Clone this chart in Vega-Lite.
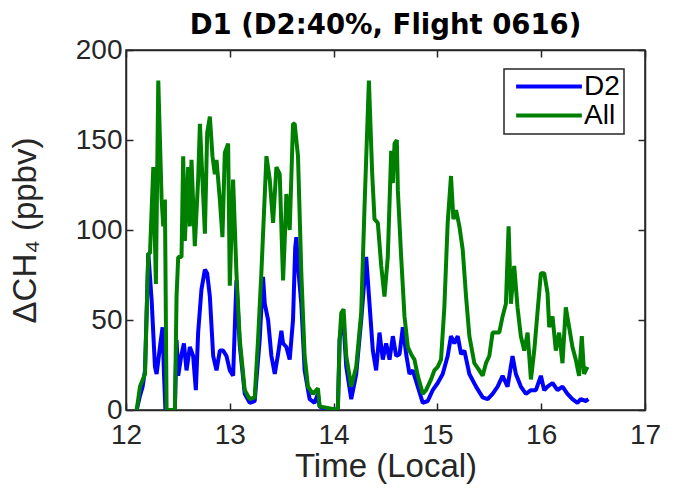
{
  "$schema": "https://vega.github.io/schema/vega-lite/v6.json",
  "width": 519,
  "height": 360,
  "autosize": "none",
  "padding": {"left": 126, "top": 50, "right": 33, "bottom": 78},
  "background": "white",
  "title": {
    "text": "D1 (D2:40%, Flight 0616)",
    "font": "DejaVu Sans",
    "fontSize": 27.5,
    "fontWeight": "bold",
    "color": "black",
    "anchor": "middle",
    "frame": "group",
    "offset": -3
  },
  "datasets": {
    "d2": [
      {"t": 12.103, "v": 0}, {"t": 12.135, "v": 8}, {"t": 12.160, "v": 13}, {"t": 12.183, "v": 22},
      {"t": 12.215, "v": 87}, {"t": 12.247, "v": 61}, {"t": 12.279, "v": 24}, {"t": 12.295, "v": 20},
      {"t": 12.327, "v": 35}, {"t": 12.352, "v": 46}, {"t": 12.366, "v": 20}, {"t": 12.380, "v": 0},
      {"t": 12.471, "v": 0}, {"t": 12.487, "v": 39}, {"t": 12.503, "v": 19}, {"t": 12.535, "v": 31},
      {"t": 12.558, "v": 37}, {"t": 12.583, "v": 22}, {"t": 12.615, "v": 35}, {"t": 12.647, "v": 30},
      {"t": 12.673, "v": 11}, {"t": 12.695, "v": 43}, {"t": 12.727, "v": 67}, {"t": 12.760, "v": 78},
      {"t": 12.782, "v": 76}, {"t": 12.808, "v": 63}, {"t": 12.840, "v": 30}, {"t": 12.872, "v": 22},
      {"t": 12.904, "v": 33}, {"t": 12.936, "v": 33}, {"t": 12.968, "v": 30}, {"t": 13.0, "v": 22},
      {"t": 13.032, "v": 19}, {"t": 13.064, "v": 72}, {"t": 13.096, "v": 36}, {"t": 13.144, "v": 9},
      {"t": 13.192, "v": 4}, {"t": 13.240, "v": 5}, {"t": 13.288, "v": 39}, {"t": 13.320, "v": 74},
      {"t": 13.337, "v": 59}, {"t": 13.369, "v": 50}, {"t": 13.401, "v": 30}, {"t": 13.433, "v": 20},
      {"t": 13.465, "v": 31}, {"t": 13.497, "v": 44}, {"t": 13.513, "v": 37}, {"t": 13.545, "v": 35},
      {"t": 13.577, "v": 28}, {"t": 13.609, "v": 50}, {"t": 13.630, "v": 90}, {"t": 13.641, "v": 96},
      {"t": 13.657, "v": 80}, {"t": 13.689, "v": 59}, {"t": 13.721, "v": 22}, {"t": 13.769, "v": 6},
      {"t": 13.817, "v": 4}, {"t": 13.849, "v": 9}, {"t": 13.865, "v": 2}, {"t": 13.900, "v": 1},
      {"t": 14.041, "v": 0}, {"t": 14.058, "v": 39}, {"t": 14.090, "v": 54}, {"t": 14.122, "v": 24},
      {"t": 14.170, "v": 6}, {"t": 14.218, "v": 20}, {"t": 14.266, "v": 50}, {"t": 14.314, "v": 85},
      {"t": 14.346, "v": 59}, {"t": 14.378, "v": 33}, {"t": 14.410, "v": 22}, {"t": 14.442, "v": 43},
      {"t": 14.474, "v": 28}, {"t": 14.506, "v": 37}, {"t": 14.539, "v": 28}, {"t": 14.571, "v": 41},
      {"t": 14.603, "v": 30}, {"t": 14.635, "v": 31}, {"t": 14.667, "v": 46}, {"t": 14.699, "v": 31},
      {"t": 14.731, "v": 20}, {"t": 14.763, "v": 22}, {"t": 14.811, "v": 13}, {"t": 14.859, "v": 4},
      {"t": 14.907, "v": 5}, {"t": 14.955, "v": 11}, {"t": 15.003, "v": 15}, {"t": 15.051, "v": 20},
      {"t": 15.099, "v": 30}, {"t": 15.131, "v": 41}, {"t": 15.163, "v": 37}, {"t": 15.196, "v": 41},
      {"t": 15.228, "v": 31}, {"t": 15.260, "v": 33}, {"t": 15.308, "v": 20}, {"t": 15.372, "v": 13},
      {"t": 15.436, "v": 7}, {"t": 15.484, "v": 6}, {"t": 15.532, "v": 9}, {"t": 15.580, "v": 13},
      {"t": 15.628, "v": 19}, {"t": 15.676, "v": 13}, {"t": 15.724, "v": 30}, {"t": 15.756, "v": 20},
      {"t": 15.804, "v": 13}, {"t": 15.853, "v": 9}, {"t": 15.901, "v": 11}, {"t": 15.949, "v": 11},
      {"t": 15.997, "v": 19}, {"t": 16.029, "v": 11}, {"t": 16.061, "v": 13}, {"t": 16.109, "v": 15},
      {"t": 16.157, "v": 11}, {"t": 16.205, "v": 13}, {"t": 16.253, "v": 9}, {"t": 16.301, "v": 6},
      {"t": 16.349, "v": 4}, {"t": 16.381, "v": 6}, {"t": 16.429, "v": 5}, {"t": 16.455, "v": 6}
    ],
    "all": [
      {"t": 12.103, "v": 0}, {"t": 12.135, "v": 13}, {"t": 12.183, "v": 20}, {"t": 12.215, "v": 87},
      {"t": 12.231, "v": 87}, {"t": 12.263, "v": 135}, {"t": 12.288, "v": 70}, {"t": 12.311, "v": 183},
      {"t": 12.343, "v": 117}, {"t": 12.359, "v": 102}, {"t": 12.375, "v": 117}, {"t": 12.391, "v": 0},
      {"t": 12.471, "v": 0}, {"t": 12.487, "v": 63}, {"t": 12.503, "v": 85}, {"t": 12.535, "v": 85},
      {"t": 12.551, "v": 141}, {"t": 12.567, "v": 94}, {"t": 12.599, "v": 135}, {"t": 12.615, "v": 102},
      {"t": 12.631, "v": 139}, {"t": 12.663, "v": 91}, {"t": 12.695, "v": 128}, {"t": 12.712, "v": 159},
      {"t": 12.743, "v": 120}, {"t": 12.760, "v": 98}, {"t": 12.782, "v": 154}, {"t": 12.808, "v": 163},
      {"t": 12.833, "v": 141}, {"t": 12.856, "v": 131}, {"t": 12.872, "v": 139}, {"t": 12.904, "v": 117},
      {"t": 12.929, "v": 96}, {"t": 12.952, "v": 143}, {"t": 12.984, "v": 148}, {"t": 13.0, "v": 69},
      {"t": 13.032, "v": 128}, {"t": 13.048, "v": 102}, {"t": 13.064, "v": 76}, {"t": 13.096, "v": 39},
      {"t": 13.144, "v": 11}, {"t": 13.192, "v": 6}, {"t": 13.240, "v": 7}, {"t": 13.272, "v": 39},
      {"t": 13.304, "v": 76}, {"t": 13.353, "v": 141}, {"t": 13.385, "v": 128}, {"t": 13.417, "v": 104},
      {"t": 13.449, "v": 135}, {"t": 13.481, "v": 131}, {"t": 13.513, "v": 72}, {"t": 13.529, "v": 94},
      {"t": 13.545, "v": 120}, {"t": 13.577, "v": 100}, {"t": 13.609, "v": 159}, {"t": 13.625, "v": 159},
      {"t": 13.657, "v": 141}, {"t": 13.689, "v": 76}, {"t": 13.721, "v": 30}, {"t": 13.753, "v": 13},
      {"t": 13.801, "v": 9}, {"t": 13.849, "v": 12}, {"t": 13.865, "v": 2}, {"t": 14.041, "v": 0},
      {"t": 14.058, "v": 39}, {"t": 14.074, "v": 54}, {"t": 14.096, "v": 56}, {"t": 14.122, "v": 30},
      {"t": 14.170, "v": 13}, {"t": 14.218, "v": 24}, {"t": 14.266, "v": 54}, {"t": 14.298, "v": 113},
      {"t": 14.340, "v": 183}, {"t": 14.372, "v": 131}, {"t": 14.394, "v": 106}, {"t": 14.426, "v": 104},
      {"t": 14.459, "v": 80}, {"t": 14.490, "v": 63}, {"t": 14.522, "v": 85}, {"t": 14.555, "v": 144},
      {"t": 14.571, "v": 126}, {"t": 14.587, "v": 148}, {"t": 14.609, "v": 150}, {"t": 14.619, "v": 122},
      {"t": 14.651, "v": 85}, {"t": 14.683, "v": 52}, {"t": 14.715, "v": 35}, {"t": 14.747, "v": 31},
      {"t": 14.779, "v": 28}, {"t": 14.811, "v": 19}, {"t": 14.859, "v": 9}, {"t": 14.891, "v": 11},
      {"t": 14.939, "v": 17}, {"t": 14.971, "v": 22}, {"t": 15.003, "v": 24}, {"t": 15.035, "v": 28},
      {"t": 15.067, "v": 57}, {"t": 15.099, "v": 104}, {"t": 15.131, "v": 130}, {"t": 15.154, "v": 106},
      {"t": 15.180, "v": 111}, {"t": 15.212, "v": 102}, {"t": 15.244, "v": 89}, {"t": 15.276, "v": 63},
      {"t": 15.308, "v": 41}, {"t": 15.356, "v": 26}, {"t": 15.404, "v": 22}, {"t": 15.436, "v": 19},
      {"t": 15.468, "v": 26}, {"t": 15.500, "v": 30}, {"t": 15.532, "v": 43}, {"t": 15.564, "v": 43},
      {"t": 15.596, "v": 43}, {"t": 15.628, "v": 52}, {"t": 15.660, "v": 59}, {"t": 15.686, "v": 102},
      {"t": 15.708, "v": 59}, {"t": 15.740, "v": 80}, {"t": 15.772, "v": 57}, {"t": 15.804, "v": 41},
      {"t": 15.837, "v": 33}, {"t": 15.869, "v": 43}, {"t": 15.901, "v": 17}, {"t": 15.933, "v": 33},
      {"t": 15.964, "v": 54}, {"t": 15.997, "v": 76}, {"t": 16.029, "v": 76}, {"t": 16.061, "v": 65},
      {"t": 16.077, "v": 46}, {"t": 16.109, "v": 52}, {"t": 16.141, "v": 33}, {"t": 16.173, "v": 43},
      {"t": 16.205, "v": 26}, {"t": 16.237, "v": 57}, {"t": 16.269, "v": 46}, {"t": 16.301, "v": 35},
      {"t": 16.333, "v": 28}, {"t": 16.365, "v": 19}, {"t": 16.391, "v": 41}, {"t": 16.413, "v": 20},
      {"t": 16.445, "v": 24}
    ]
  },
  "layer": [
    {
      "data": {"name": "d2"},
      "transform": [{"calculate": "'D2'", "as": "series"}],
      "mark": {"type": "line", "strokeWidth": 4, "strokeJoin": "bevel", "clip": true},
      "encoding": {
        "x": {"field": "t", "type": "quantitative", "scale": {"domain": [12, 17], "nice": false},
          "axis": {"orient": "bottom", "values": [12, 13, 14, 15, 16, 17], "title": "Time (Local)"}},
        "y": {"field": "v", "type": "quantitative", "scale": {"domain": [0, 200], "nice": false},
          "axis": {"orient": "left", "values": [0, 50, 100, 150, 200], "title": "ΔCH₄  (ppbv)"}},
        "color": {"field": "series", "type": "nominal",
          "scale": {"domain": ["D2", "All"], "range": ["#0000FF", "#008000"]},
          "legend": {"title": null}}
      }
    },
    {
      "data": {"name": "all"},
      "transform": [{"calculate": "'All'", "as": "series"}],
      "mark": {"type": "line", "strokeWidth": 4, "strokeJoin": "bevel", "clip": true},
      "encoding": {
        "x": {"field": "t", "type": "quantitative",
          "axis": {"orient": "top", "values": [12, 13, 14, 15, 16, 17], "labels": false, "title": null}},
        "y": {"field": "v", "type": "quantitative",
          "axis": {"orient": "right", "values": [0, 50, 100, 150, 200], "labels": false, "title": null}},
        "color": {"field": "series", "type": "nominal"}
      }
    }
  ],
  "resolve": {"axis": {"x": "independent", "y": "independent"}},
  "config": {
    "view": {"stroke": "#262626", "strokeWidth": 1.5},
    "axis": {
      "grid": false,
      "labelFlush": false,
      "domainColor": "#262626",
      "domainWidth": 1.5,
      "tickColor": "#262626",
      "tickWidth": 1.5,
      "tickSize": -7,
      "labelFont": "Liberation Sans",
      "labelFontSize": 28,
      "labelColor": "#262626",
      "titleFont": "Liberation Sans",
      "titleFontSize": 33,
      "titleFontWeight": "normal",
      "titleColor": "#262626"
    },
    "axisBottom": {"labelPadding": 18, "titlePadding": 1},
    "axisLeft": {"labelPadding": 11, "titlePadding": 33},
    "legend": {
      "orient": "none",
      "legendX": 378,
      "legendY": 19,
      "symbolType": "M-2.35,0H2.35",
      "symbolSize": 784,
      "symbolOffset": 25,
      "symbolStrokeWidth": 4,
      "labelFont": "Liberation Sans",
      "labelFontSize": 28,
      "labelColor": "black",
      "labelOffset": 19,
      "clipHeight": 27,
      "rowPadding": 0,
      "padding": 4,
      "fillColor": "white",
      "strokeColor": "#262626",
      "strokeWidth": 1.5
    }
  }
}
